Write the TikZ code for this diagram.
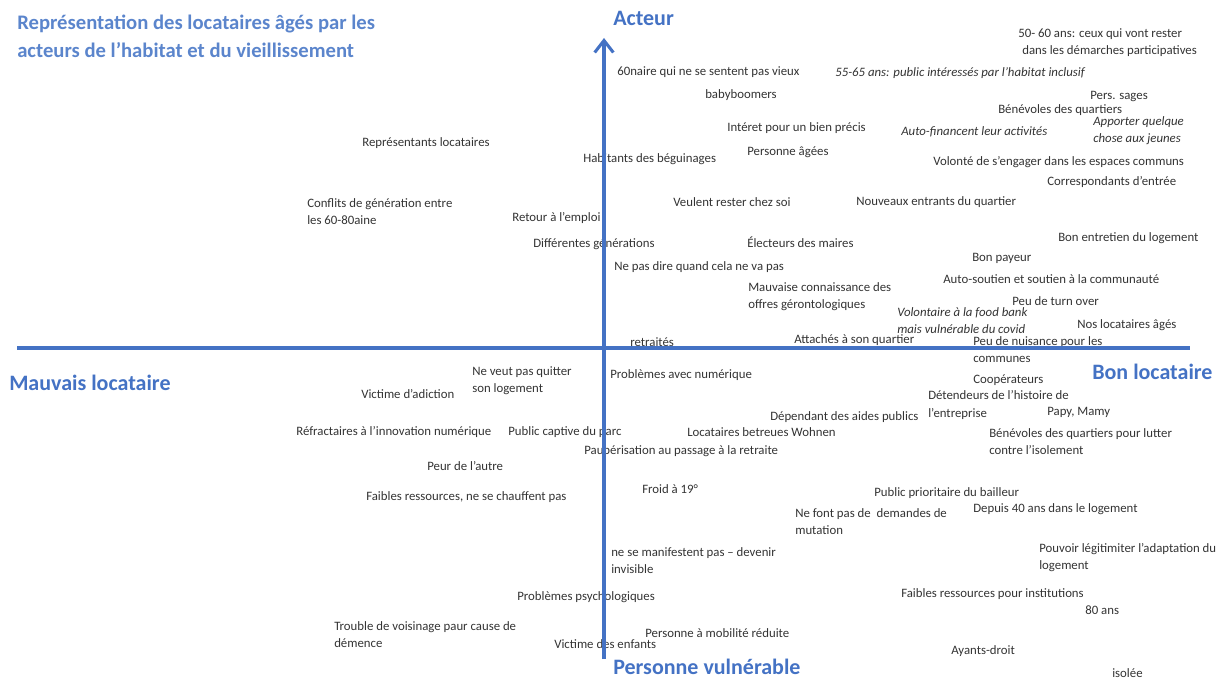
\documentclass[tikz,border=0pt]{standalone}
\usepackage{fontspec}
\setmainfont{Carlito}
\usepackage{tikz}
\usetikzlibrary{arrows.meta, positioning}
\definecolor{AxisBlue}{HTML}{4472C4}
\definecolor{TitleBlue}{HTML}{5B85CC}
\definecolor{InkGray}{HTML}{333333}

\begin{document}
\begin{tikzpicture}[x=0.75pt, y=-0.75pt,
    item/.style={anchor=west, inner sep=0pt, align=left, text=InkGray, font=\fontsize{9.6}{12.8}\selectfont},
    itemit/.style={item, font=\fontsize{9.6}{12.8}\selectfont\itshape},
    axislabel/.style={inner sep=0pt, text=AxisBlue, font=\fontsize{16.5}{20}\selectfont\bfseries},
    axisline/.style={AxisBlue, line width=2.3pt}]
    \useasboundingbox (0,0) rectangle (1226,680);

    \node[anchor=west, inner sep=0pt, align=left, text=TitleBlue, font=\fontsize{15.5}{21}\selectfont\bfseries] (title) at (17,36)
        {Représentation des locataires âgés par les\\acteurs de l’habitat et du vieillissement};

    \node[axislabel, anchor=west] (acteur) at (613,18) {Acteur};
    \node[axislabel, anchor=west] (mauvais) at (9,383) {Mauvais locataire};
    \node[axislabel, anchor=west] (bon) at (1092,372) {Bon locataire};
    \node[axislabel, anchor=west] (vulnerable) at (613,667) {Personne vulnérable};

    % quadrant haut gauche
    \node[item] (repr) at (362,143) {Représentants locataires};
    \node[item] (conflits) at (307,212) {Conflits de génération entre\\les 60-80aine};
    \node[item] (beguinage) at (583,159) {Habitants des béguinages};
    \node[item] (emploi) at (512,218) {Retour à l’emploi};
    \node[item] (generations) at (533,244) {Différentes générations};

    % quadrant haut droit
    \node[item] (soixante) at (617,72) {60naire qui ne se sentent pas vieux};
    \node[item] (baby) at (705,95) {babyboomers};
    \node[item] (interet) at (727,128) {Intéret pour un bien précis};
    \node[item] (agees) at (747,152) {Personne âgées};
    \node[item] (chezsoi) at (673,202) {Veulent rester chez soi};
    \node[item] (cinquante) at (1018,43) {50- 60 ans: ceux qui vont rester\\\hspace{3pt}dans les démarches participatives};
    \node[itemit] (inclusif) at (835,73) {55-65 ans: public intéressés par l’habitat inclusif};
    \node[item] (sages) at (1090,96) {Pers. sages};
    \node[item] (benevoles) at (998,110) {Bénévoles des quartiers};
    \node[itemit] (jeunes) at (1093,131) {Apporter quelque\\chose aux jeunes};
    \node[itemit] (autofin) at (901,132) {Auto-financent leur activités};
    \node[item] (engager) at (933,162) {Volonté de s’engager dans les espaces communs};
    \node[item] (correspondants) at (1047,182) {Correspondants d’entrée};
    \node[item] (nouveaux) at (856,202) {Nouveaux entrants du quartier};
    \node[item] (electeurs) at (747,242) {Électeurs des maires};
    \node[item] (entretien) at (1058,238) {Bon entretien du logement};
    \node[item] (payeur) at (972,258) {Bon payeur};
    \node[item] (direquand) at (614,267) {Ne pas dire quand cela ne va pas};
    \node[item] (autosoutien) at (943,279) {Auto-soutien et soutien à la communauté};
    \node[item] (offres) at (748,297) {Mauvaise connaissance des\\offres gérontologiques};
    \node[item] (turnover) at (1012,301) {Peu de turn over};
    \node[itemit] (foodbank) at (897,321) {Volontaire à la food bank\\mais vulnérable du covid};
    \node[item] (noslocataires) at (1077,325) {Nos locataires âgés};
    \node[item] (retraites) at (630,342) {retraités};
    \node[item] (attaches) at (794,340) {Attachés à son quartier};
    \node[item] (nuisance) at (973,350) {Peu de nuisance pour les\\communes};

    % quadrant bas gauche
    \node[item] (quitter) at (472,381) {Ne veut pas quitter\\son logement};
    \node[item] (adiction) at (361,394) {Victime d’adiction};
    \node[item] (refractaires) at (296,432) {Réfractaires à l’innovation numérique};
    \node[item] (captive) at (508,432) {Public captive du parc};
    \node[item] (peur) at (427,466) {Peur de l’autre};
    \node[item] (chauffent) at (366,497) {Faibles ressources, ne se chauffent pas};
    \node[item] (psycho) at (517,597) {Problèmes psychologiques};
    \node[item] (demence) at (334,635) {Trouble de voisinage paur cause de\\démence};
    \node[item] (enfants) at (554,644) {Victime des enfants};

    % quadrant bas droit
    \node[item] (numerique) at (610,375) {Problèmes avec numérique};
    \node[item] (cooperateurs) at (973,380) {Coopérateurs};
    \node[item] (histoire) at (928,405) {Détendeurs de l’histoire de\\l’entreprise};
    \node[item] (papy) at (1047,412) {Papy, Mamy};
    \node[item] (aides) at (770,417) {Dépendant des aides publics};
    \node[item] (wohnen) at (687,432) {Locataires betreues Wohnen};
    \node[item] (isolement) at (989,442) {Bénévoles des quartiers pour lutter\\contre l’isolement};
    \node[item] (pauperisation) at (584,451) {Paupérisation au passage à la retraite};
    \node[item] (froid) at (642,489) {Froid à 19°};
    \node[item] (prioritaire) at (874,493) {Public prioritaire du bailleur};
    \node[item] (quarante) at (973,509) {Depuis 40 ans dans le logement};
    \node[item] (mutation) at (795,522) {Ne font pas de\ \ demandes de\\mutation};
    \node[item] (legitimer) at (1039,558) {Pouvoir légitimiter l’adaptation du\\logement};
    \node[item] (invisible) at (611,561) {ne se manifestent pas – devenir\\invisible};
    \node[item] (institutions) at (901,594) {Faibles ressources pour institutions};
    \node[item] (quatrevingt) at (1085,610) {80 ans};
    \node[item] (mobilite) at (645,633) {Personne à mobilité réduite};
    \node[item] (ayants) at (951,651) {Ayants-droit};
    \node[item] (isolee) at (1112,673) {isolée};

    % axes
    \coordinate (west) at (17,348);
    \coordinate (east) at (1190,348);
    \coordinate (south) at (604,659);
    \coordinate (north) at (604,38);
    \draw[axisline] (west) -- (east);
    \draw[axisline, -{Straight Barb[length=9pt, width=14pt]}] (south) -- (north);
\end{tikzpicture}
\end{document}
